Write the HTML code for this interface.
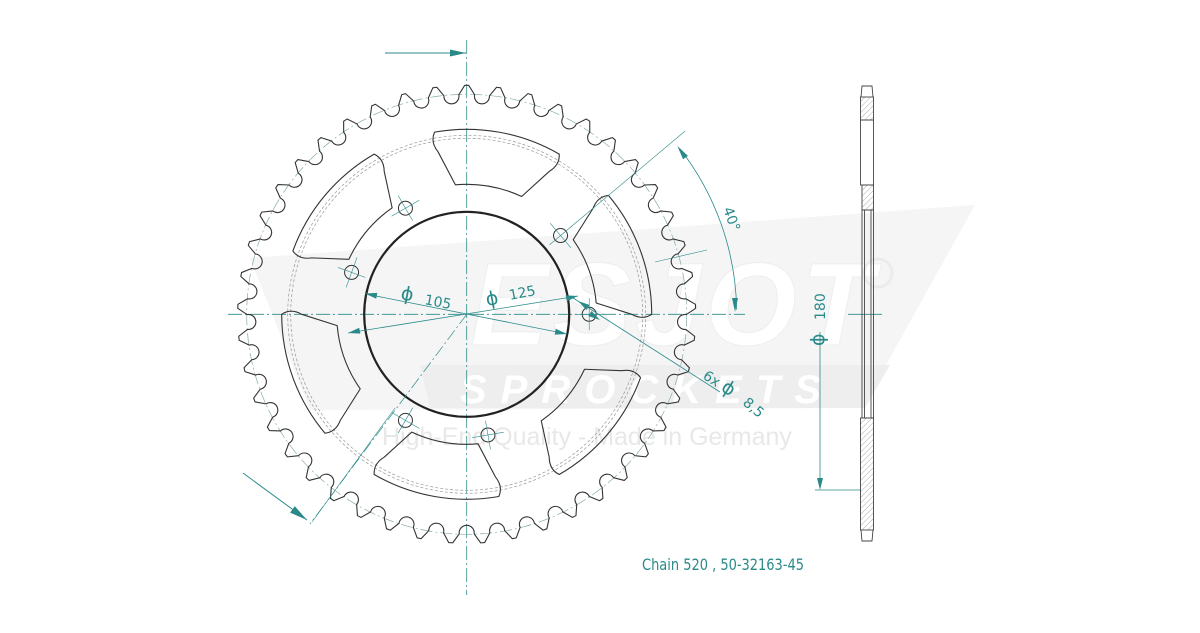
<!DOCTYPE html>
<html><head><meta charset="utf-8"><style>
html,body{margin:0;padding:0;background:#fff;}
svg{display:block;}
</style></head><body>
<svg id="s" width="1200" height="633" viewBox="0 0 1200 633" xmlns="http://www.w3.org/2000/svg" font-family="Liberation Sans, sans-serif">
<defs>
<pattern id="h" width="4" height="4" patternUnits="userSpaceOnUse" patternTransform="rotate(45)"><line x1="0" y1="0" x2="0" y2="4" stroke="#999" stroke-width="0.8"/></pattern>
</defs>
<!-- watermark -->
<polygon points="250,258 975,205 862,408 310,410" fill="#f5f5f5"/>
<polygon points="420,365 890,365 865,408 430,408" fill="#eeeeee"/>
<text x="470" y="345" font-size="118" font-weight="bold" font-style="italic" fill="#ffffff" stroke="#eeeeee" stroke-width="1" letter-spacing="4">ESJOT</text>
<circle cx="878" cy="273" r="14" fill="none" stroke="#ebebeb" stroke-width="3"/>
<text x="460" y="403" font-size="40" font-weight="bold" font-style="italic" fill="#ffffff" letter-spacing="14">SPROCKETS</text>
<text x="382" y="445" font-size="25" fill="#e8e8e8">High-End Quality - Made in Germany</text>
<g id="g"></g>
<text x="642" y="570" font-size="16" fill="#2a8a8a" font-family="DejaVu Sans Condensed, Liberation Sans Narrow, sans-serif" textLength="162" lengthAdjust="spacingAndGlyphs">Chain 520 , 50-32163-45</text>
</svg>
<script>
var cx=466.7,cy=314.3,g=document.getElementById('g'),ns='http://www.w3.org/2000/svg';
function el(t,a){var e=document.createElementNS(ns,t);for(var k in a)e.setAttribute(k,a[k]);g.appendChild(e);return e;}
function P(r,a){a=a*Math.PI/180;return [cx+r*Math.cos(a),cy+r*Math.sin(a)];}
function f(p){return p[0].toFixed(2)+','+p[1].toFixed(2);}
var T='#2a8a8a',D='#333';
el('line',{x1:466.7,y1:40,x2:466.7,y2:595,stroke:T,'stroke-width':0.8,'stroke-dasharray':'14 3 2 3'});
el('line',{x1:228,y1:cy,x2:745,y2:cy,stroke:T,'stroke-width':0.8,'stroke-dasharray':'14 3 2 3'});
el('line',{x1:848,y1:cy,x2:882,y2:cy,stroke:T,'stroke-width':0.8});
el('circle',{cx:cx,cy:cy,r:220,fill:'none',stroke:'#8aa','stroke-width':0.7,'stroke-dasharray':'12 3 2 3'});
el('circle',{cx:cx,cy:cy,r:176,fill:'none',stroke:'#999','stroke-width':0.7,'stroke-dasharray':'3 2'});
el('circle',{cx:cx,cy:cy,r:179,fill:'none',stroke:'#999','stroke-width':0.7,'stroke-dasharray':'3 2'});
// teeth
var d='',rs=7.5,a=8*Math.PI/180;
for(var i=0;i<45;i++){
 var th=-90+i*8;
 var t1=P(229,th-0.5),t2=P(229,th+0.5);
 d+=(i==0?'M':'L')+f(t1)+' L'+f(t2)+' ';
 var phi=(th+4)*Math.PI/180,c=P(218.5,th+4);
 var u=[Math.cos(phi),Math.sin(phi)],t=[-Math.sin(phi),Math.cos(phi)];
 var s=[c[0]+rs*(-t[0]*Math.cos(a)+u[0]*Math.sin(a)),c[1]+rs*(-t[1]*Math.cos(a)+u[1]*Math.sin(a))];
 var e=[c[0]+rs*(t[0]*Math.cos(a)+u[0]*Math.sin(a)),c[1]+rs*(t[1]*Math.cos(a)+u[1]*Math.sin(a))];
 d+='L'+f(s)+' A'+rs+' '+rs+' 0 1 0 '+f(e)+' ';
}
d+='Z';
el('path',{d:d,fill:'none',stroke:D,'stroke-width':1.1,'stroke-linejoin':'round'});
// windows
[-20,-80,-140,160,100,40].forEach(function(w){
 var o1=P(185,w-20),o2=P(185,w+20),i2=P(130,w+15),i1=P(130,w-15);
 var m1=P(176,w-22),m2=P(176,w+22);
 el('path',{d:'M'+f(o1)+' A185 185 0 0 1 '+f(o2)+' Q'+f(m2)+' '+f(P(165,w+20))+' L'+f(i2)+' A130 130 0 0 0 '+f(i1)+' L'+f(P(165,w-20))+' Q'+f(m1)+' '+f(o1)+' Z',fill:'none',stroke:D,'stroke-width':1.1,'stroke-linejoin':'round'});
});
el('circle',{cx:cx,cy:cy,r:102.5,fill:'none',stroke:'#222','stroke-width':2.2});
[0,-40,-120,-160,120,80].forEach(function(h){
 var c=P(122.5,h);
 el('circle',{cx:c[0],cy:c[1],r:7,fill:'none',stroke:D,'stroke-width':1});
 var a1=P(108,h),a2=P(137,h);
 el('line',{x1:a1[0],y1:a1[1],x2:a2[0],y2:a2[1],stroke:T,'stroke-width':0.6});
 var hr=h*Math.PI/180,tx=-Math.sin(hr)*16,ty=Math.cos(hr)*16;
 el('line',{x1:c[0]-tx,y1:c[1]-ty,x2:c[0]+tx,y2:c[1]+ty,stroke:T,'stroke-width':0.6});
});
function arrow(x,y,ang,len,w){var r=ang*Math.PI/180,bx=x-len*Math.cos(r),by=y-len*Math.sin(r),px=-Math.sin(r)*w,py=Math.cos(r)*w;
 el('polygon',{points:x+','+y+' '+(bx+px)+','+(by+py)+' '+(bx-px)+','+(by-py),fill:T});}
function ln(x1,y1,x2,y2,w){el('line',{x1:x1,y1:y1,x2:x2,y2:y2,stroke:T,'stroke-width':w||0.8});}
ln(385,53,466,53,1);arrow(466,53,0,16,3.5);
ln(243,473,307,520,1);arrow(307,520,36,18,4);
el('line',{x1:cx,y1:cy,x2:310,y2:524,stroke:T,'stroke-width':0.7,'stroke-dasharray':'12 3 2 3'});
ln(312,522,395,408,0.6);
ln(366,294,567,334);arrow(365,293.5,191,12,3);arrow(567,334,11,12,3);
ln(348,333,578,296);arrow(348,333,169,12,3);arrow(578,296,-11,12,3);
ln(570,296,720,392);arrow(578,301,213,12,3);arrow(600,320,33,12,3);
var e1=P(135,-40),e2=P(285,-40);ln(e1[0],e1[1],e2[0],e2[1],0.6);
ln(655,262,707,250,0.6);
var A1=P(270,-38),A2=P(270,-1);
el('path',{d:'M'+f(A1)+' A270 270 0 0 1 '+f(A2),fill:'none',stroke:T,'stroke-width':0.8});
arrow(A1[0]-2,A1[1]-2,-125,14,3);arrow(735,312,90,14,3);
function tx(s,x,y,rot,sz){var e=el('text',{x:0,y:0,'font-size':sz||15,fill:T,transform:'translate('+x+','+y+') rotate('+rot+')','font-family':'DejaVu Sans, sans-serif'});e.textContent=s;}
tx('ϕ',400,299,11,19);tx('105',424,304,11,14);
tx('ϕ',487,306,-11,19);tx('125',510,300,-11,14);
tx('40°',723,209,70,14);
tx('6x',702,378,33,14);tx('ϕ',720,390,33,19);tx('8,5',742,404,40,14);
tx('ϕ',824,346,-90,19);tx('180',825,320,-90,14);
ln(820,332,820,488);ln(815,490,860,490,0.7);arrow(820,490,90,12,3);
function R(x,y,w,h,fl){el('rect',{x:x,y:y,width:w,height:h,fill:fl||'none',stroke:'#444','stroke-width':0.9});}
el('path',{d:'M861,97 L862,86 L872,86 L873,97 M861,530 L862,541 L872,541 L873,530',fill:'none',stroke:'#444','stroke-width':0.9});
R(860.5,97,13,23,'url(#h)');R(860.5,120,13,65);R(862,185,11.5,25,'url(#h)');
R(862,210,11.5,208);
el('line',{x1:864.5,y1:210,x2:864.5,y2:418,stroke:'#444','stroke-width':0.9});
el('line',{x1:871,y1:210,x2:871,y2:418,stroke:'#444','stroke-width':0.9});
R(860.5,418,13,112,'url(#h)');
</script>
</body></html>
